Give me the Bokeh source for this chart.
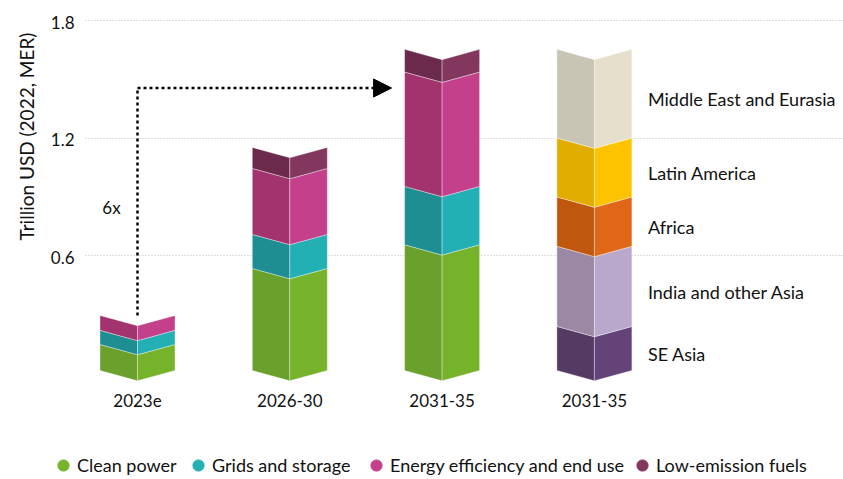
import math
from bokeh.plotting import figure
from bokeh.models import FixedTicker, Arrow, NormalHead, Legend, LegendItem, Grid
from bokeh.core.properties import value
from bokeh.embed import file_html
from bokeh.resources import INLINE

# ---------------- data ----------------
categories = ["2023e", "2026-30", "2031-35"]
tech_names = ["Clean power", "Grids and storage", "Energy efficiency and end use", "Low-emission fuels"]
clean_power = [0.133, 0.521, 0.642]
grids_storage = [0.072, 0.174, 0.298]
energy_efficiency = [0.076, 0.337, 0.584]
low_emission_fuels = [0.000, 0.107, 0.116]

region_category = "2031-35"
region_names = ["SE Asia", "India and other Asia", "Africa", "Latin America", "Middle East and Eurasia"]
region_values = [0.225, 0.409, 0.252, 0.301, 0.453]

y_ticks = [0.6, 1.2, 1.8]
y_title = "Trillion USD (2022, MER)"
multiplier_label = "6x"

# ---------------- layout / style ----------------
W, H = 843, 479
PX_X = 152.3      # pixels per category step
X0 = 137.0        # pixel of first category centre
PX_Y = 195.83     # pixels per trillion
Y0 = 372.5        # pixel of zero


def xd(px):
    return (px - X0) / PX_X


def yd(py):
    return (Y0 - py) / PX_Y


FONT = "Lato"
TXT = "#111111"
tech_dark = ["#6AA12D", "#1F8E93", "#A3336F", "#6B2A4B"]
tech_light = ["#77B22B", "#22B0B5", "#C4408A", "#84375E"]
region_dark = ["#553A64", "#9A88A5", "#C0570F", "#E0AD00", "#C8C5B4"]
region_light = ["#644478", "#BAA8CC", "#E06717", "#FDC300", "#E6DFCB"]

BAR_W = 75 / PX_X
DIP = 10.3 / PX_Y
BAR_BASE = 2.5 / PX_Y

p = figure(width=W, height=H, output_backend="svg", toolbar_location=None,
           x_range=(xd(0), xd(W)), y_range=(yd(H), yd(0)),
           x_axis_location=None, y_axis_location=None,
           min_border_left=0, min_border_right=0, min_border_top=0, min_border_bottom=0)
p.outline_line_color = None
p.background_fill_color = "white"
p.border_fill_color = "white"
for g in list(p.xgrid) + list(p.ygrid):
    g.visible = False

# horizontal dotted grid
grid = Grid(dimension=1, ticker=FixedTicker(ticks=y_ticks), grid_line_color="#bdbdbd",
            grid_line_dash="1 2", grid_line_width=1)
try:
    grid.cross_bounds = (xd(85), xd(W))
    p.add_layout(grid)
except Exception:
    p.segment(x0=[xd(85)] * len(y_ticks), x1=[xd(W)] * len(y_ticks), y0=y_ticks, y1=y_ticks,
              line_color="#bdbdbd", line_dash="1 2", line_width=1)

# y tick labels and title
p.text(x=[xd(74)] * len(y_ticks), y=[t - 1.5 / PX_Y for t in y_ticks],
       text=[f"{t:.1f}" for t in y_ticks],
       text_font=value(FONT), text_font_size="17px", text_align="right",
       text_baseline="middle", text_color=TXT)
p.text(x=[xd(26)], y=[yd(136)], text=[y_title], angle=math.pi / 2,
       text_font=value(FONT), text_font_size="19px", text_align="center",
       text_baseline="middle", text_color=TXT)


def chevron(xc, b, t):
    hw = BAR_W / 2
    left = ([xc - hw, xc, xc, xc - hw], [b, b - DIP, t - DIP, t])
    right = ([xc, xc + hw, xc + hw, xc], [b - DIP, b, t, t - DIP])
    return left, right


xs, ys, cols = [], [], []
series = [clean_power, grids_storage, energy_efficiency, low_emission_fuels]
totals = []
for i, cat in enumerate(categories):
    base = BAR_BASE
    for s, vals in enumerate(series):
        v = vals[i]
        if v <= 0:
            continue
        l, r = chevron(i, base, base + v)
        xs += [l[0], r[0]]
        ys += [l[1], r[1]]
        cols += [tech_dark[s], tech_light[s]]
        base += v
    totals.append(base)

reg_x = len(categories)
base = BAR_BASE
reg_mid = []
for k, v in enumerate(region_values):
    l, r = chevron(reg_x, base, base + v)
    xs += [l[0], r[0]]
    ys += [l[1], r[1]]
    cols += [region_dark[k], region_light[k]]
    reg_mid.append(base + v / 2)
    base += v

p.patches(xs=xs, ys=ys, fill_color=cols, line_color="white", line_alpha=0.45, line_width=0.8)

# category labels
cat_labels = categories + [region_category]
p.text(x=list(range(len(cat_labels))), y=[yd(400)] * len(cat_labels), text=cat_labels,
       text_font=value(FONT), text_font_size="17px", text_align="center",
       text_baseline="middle", text_color=TXT)

# region labels (centred on segment middle at the crease)
p.text(x=[reg_x + BAR_W / 2 + 16 / PX_X] * len(region_names),
       y=[m - DIP / 2 for m in reg_mid], text=region_names,
       text_font=value(FONT), text_font_size="18px", text_align="left",
       text_baseline="middle", text_color=TXT)

# growth annotation
arrow_y = yd(87.5)
p.line(x=[0, 0], y=[totals[0], arrow_y], line_color="black", line_width=2.5, line_dash="3 3")
p.add_layout(Arrow(x_start=0, y_start=arrow_y, x_end=2 - BAR_W / 2 - 13 / PX_X, y_end=arrow_y,
                   line_color="black", line_width=2.5, line_dash="3 3",
                   end=NormalHead(size=18, fill_color="black", line_color="black", line_width=1)))
p.text(x=[xd(111)], y=[yd(207)], text=[multiplier_label], text_font=value(FONT),
       text_font_size="17px", text_align="center", text_baseline="middle", text_color=TXT)

# legend: one entry per technology, dots at the reference positions
legend_dot_px = [63, 198, 376, 642]
LEG_Y = 465
GLY = 28
for s, name in enumerate(tech_names):
    r = p.scatter(x=[float("nan")], y=[float("nan")], marker="circle",
                  fill_color=tech_light[s], line_color=tech_light[s])
    lg = Legend(items=[LegendItem(label=name, renderers=[r])], orientation="horizontal",
                location=(legend_dot_px[s] - GLY / 2, H - LEG_Y - GLY / 2),
                border_line_alpha=0, background_fill_alpha=0, padding=0, margin=0,
                label_standoff=0, glyph_width=GLY, glyph_height=GLY, label_height=GLY,
                label_text_font=FONT, label_text_font_size="18px", label_text_color=TXT,
                label_text_baseline="middle")
    p.add_layout(lg, "center")

open("out.html", "w").write(file_html(p, INLINE))
